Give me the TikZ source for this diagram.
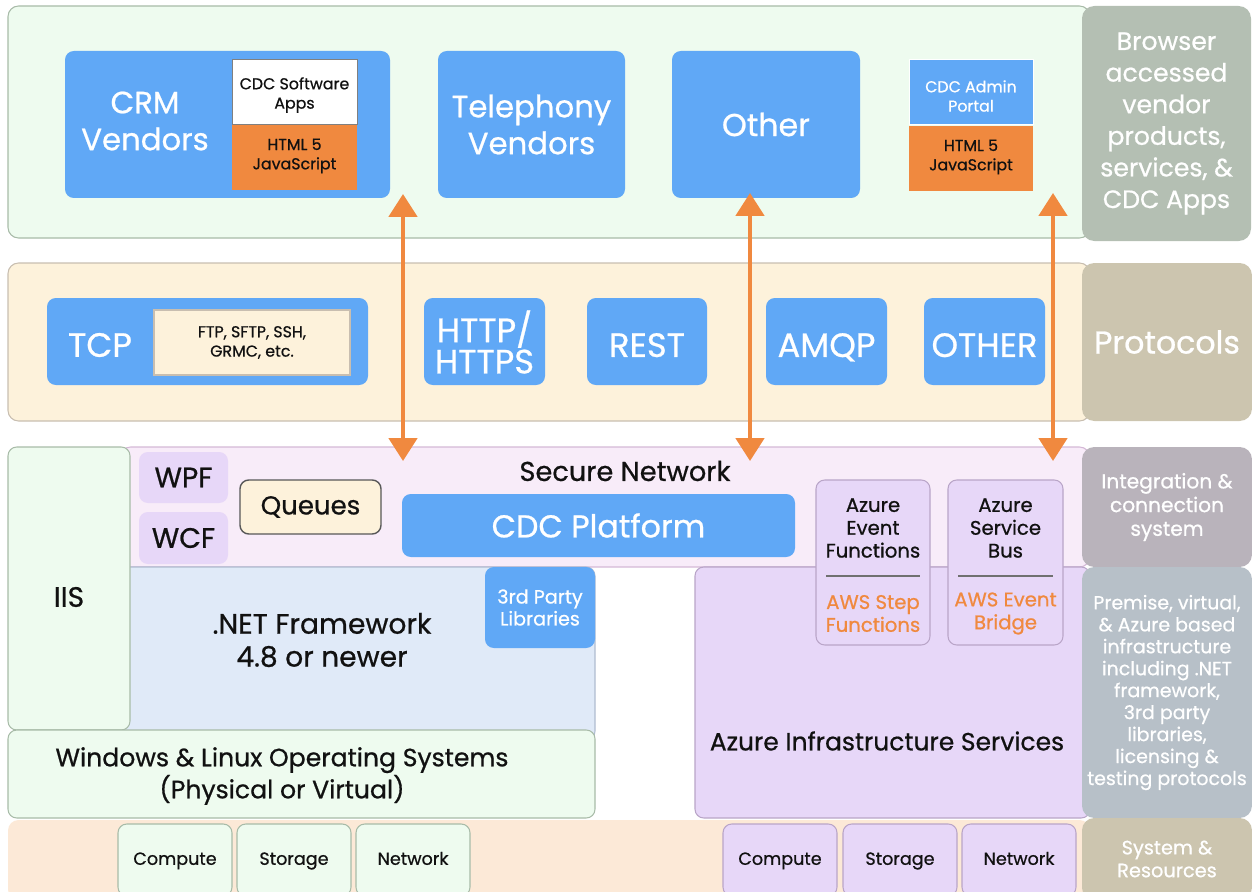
\documentclass[tikz,border=0pt]{standalone}
\usepackage{fontspec}
\setmainfont{Poppins}
\newfontfamily\pmed{Poppins}[FakeBold=0.7]
\usetikzlibrary{arrows.meta}

\definecolor{txt}{HTML}{111111}
\definecolor{cdcblue}{HTML}{60A8F6}
\definecolor{cdcorange}{HTML}{F0893F}
\definecolor{bandgreen}{HTML}{EEFBEF}
\definecolor{linegreen}{HTML}{A8BBA8}
\definecolor{bandcream}{HTML}{FDF2DB}
\definecolor{linecream}{HTML}{C8BEB0}
\definecolor{bandpink}{HTML}{F8ECF9}
\definecolor{linepink}{HTML}{D4B8D6}
\definecolor{lav}{HTML}{E7D7F8}
\definecolor{linelav}{HTML}{B9A5C8}
\definecolor{netblue}{HTML}{E0EAF8}
\definecolor{linenet}{HTML}{B0BCD0}
\definecolor{bandpeach}{HTML}{FCE9D7}
\definecolor{sidebrowser}{HTML}{B4BFB3}
\definecolor{sideproto}{HTML}{CCC5AF}
\definecolor{sideint}{HTML}{B9B3BB}
\definecolor{sideprem}{HTML}{B7C0C8}

\newcommand\fbig{\pmed\fontsize{17.5}{21}\selectfont}
\newcommand\fproto{\pmed\fontsize{19.2}{17.8}\selectfont}
\newcommand\fmid{\pmed\fontsize{15}{17}\selectfont}
\newcommand\fsmall{\pmed\fontsize{10}{13}\selectfont}
\newcommand\fevent{\pmed\fontsize{11.2}{13}\selectfont}
\newcommand\ftiny{\pmed\fontsize{9}{11}\selectfont}

\begin{document}
\begin{tikzpicture}[x=0.02cm,y=-0.02cm,
  sz/.style 2 args={minimum width=#1*0.02cm,minimum height=#2*0.02cm},
  box/.style={rounded corners=5pt,inner sep=0pt,outer sep=0pt,align=center,text=txt},
  band/.style={box,rounded corners=6pt,line width=0.6pt},
  bluebox/.style={box,fill=cdcblue,text=white,font=\fbig},
  protobox/.style={bluebox,font=\fproto},
  oneline/.style={text height=21.6pt,text depth=4pt},
  orangebox/.style={box,rounded corners=0pt,fill=cdcorange,font=\ftiny},
  sidelabel/.style={box,rounded corners=7pt,text=white},
  lavbox/.style={box,fill=lav,draw=linelav,line width=0.6pt},
  greenbox/.style={box,fill=bandgreen,draw=linegreen,line width=0.6pt},
  resbox/.style={font=\fsmall,text height=7.5pt,text depth=2pt},
  label/.style={inner sep=0pt,align=center,text=txt},
  link/.style={draw=cdcorange,line width=2.3pt,
    {Triangle[width=16pt,length=13pt]}-{Triangle[width=16pt,length=13pt]}}]

  \clip (0,0) rectangle (1252,892);

  % browser layer
  \node[band,sz={1082}{232},fill=bandgreen,draw=linegreen] (top) at (549,122) {};
  \node[sidelabel,sz={169}{235},fill=sidebrowser,font=\pmed\fontsize{14.3}{18}\selectfont] (browser) at (1166.5,123.5)
    {Browser\\accessed\\vendor\\products,\\services, \&\\CDC Apps};
  \node[bluebox,sz={325}{147}] (crm) at (227.5,124.5) {};
  \node[label,text=white,font=\fbig] (crmtxt) at (145,121) {CRM\\Vendors};
  \node[box,rounded corners=0pt,sz={125}{65},fill=white,draw=gray] (apps) at (294.5,91.5) {};
  \node[label,font=\ftiny] (appstxt) at (294.5,95) {CDC Software\\Apps};
  \node[orangebox,sz={125}{65}] (html1) at (294.5,157.5) {};
  \node[label,font=\ftiny] (html1txt) at (294.5,156) {HTML 5\\JavaScript};
  \node[bluebox,sz={187}{147}] (tel) at (531.5,124.5) {Telephony\\Vendors};
  \node[bluebox,font=\pmed\fontsize{18}{21}\selectfont,sz={188}{147}] (oth) at (766,124.5) {Other};
  \node[box,rounded corners=0pt,sz={124}{65},fill=cdcblue,draw=white] (admin) at (971,91.5) {};
  \node[label,text=white,font=\ftiny] (admintxt) at (971,96) {CDC Admin\\Portal};
  \node[orangebox,sz={124}{65}] (html2) at (971,158.5) {};
  \node[label,font=\ftiny] (html2txt) at (971,157) {HTML 5\\JavaScript};

  % protocols
  \node[band,sz={1082}{158},fill=bandcream,draw=linecream] (proto) at (549,342) {};
  \node[sidelabel,sz={170}{158},fill=sideproto,font=\pmed\fontsize{18}{21}\selectfont] (protolbl) at (1167,342) {Protocols};
  \node[protobox,sz={321}{87}] (tcp) at (207.5,341.5) {};
  \node[label,text=white,font=\fproto] (tcptxt) at (100,345) {TCP};
  \node[box,rounded corners=0pt,sz={196}{65},fill=bandcream,draw=linecream,line width=1pt,font=\ftiny] (ftp) at (252,342.5) {FTP, SFTP, SSH,\\GRMC, etc.};
  \node[protobox,sz={121}{87}] (http) at (484.5,341.5) {};
  \node[label,text=white,font=\fproto] (httptxt) at (484.5,342) {HTTP/\\HTTPS};
  \node[protobox,oneline,sz={120}{87}] (rest) at (647,341.5) {REST};
  \node[protobox,oneline,sz={121}{87}] (amqp) at (826.5,341.5) {AMQP};
  \node[protobox,oneline,sz={121}{87}] (other) at (984.5,341.5) {OTHER};

  % integration
  \node[band,sz={970}{120},fill=bandpink,draw=linepink] (secure) at (605,507) {};
  \node[sidelabel,sz={170}{120},fill=sideint,font=\pmed\fontsize{11.5}{13.5}\selectfont] (intlbl) at (1167,507) {Integration \&\\connection\\system};
  \node[lavbox,sz={395}{251}] (azure) at (892.5,692.5) {};
  \node[label,font=\pmed\fontsize{14.2}{17}\selectfont] (azuretxt) at (887,741) {Azure Infrastructure Services};
  \node[box,sz={475}{173},fill=netblue,draw=linenet,line width=0.6pt] (net) at (357.5,653.5) {};
  \node[label,font=\pmed\fontsize{16}{18.7}\selectfont] (nettxt) at (322,640) {.NET Framework\\4.8 or newer};
  \node[bluebox,sz={110}{81},font=\pmed\fontsize{10.9}{12.5}\selectfont] (libs) at (540,607.5) {3rd Party\\Libraries};
  \node[greenbox,sz={122}{283}] (iis) at (69,588.5) {};
  \node[label,font=\pmed\fontsize{16}{18}\selectfont] (iistxt) at (69,597) {IIS};
  \node[box,sz={89}{51},fill=lav,font=\pmed\fontsize{16}{18}\selectfont] (wpf) at (183.5,477.5) {WPF};
  \node[box,sz={89}{52},fill=lav,font=\pmed\fontsize{16}{18}\selectfont] (wcf) at (183.5,538) {WCF};
  \node[box,sz={141}{54},fill=bandcream,draw=txt!70,line width=0.8pt,font=\pmed\fontsize{14.8}{17}\selectfont] (queues) at (310.5,507) {Queues};
  \node[label,font=\pmed\fontsize{15.5}{18}\selectfont] (securetxt) at (625,471) {Secure Network};
  \node[bluebox,sz={393}{63},font=\pmed\fontsize{18}{21}\selectfont] (platform) at (598.5,525.5) {CDC Platform};
  \node[lavbox,sz={114}{165}] (events) at (873,562.5) {};
  \node[lavbox,sz={115}{165}] (bus) at (1005.5,562.5) {};
  \node[label,font=\fevent] (eventstxt) at (873,528) {Azure\\Event\\Functions};
  \node[label,font=\fevent,text=cdcorange] (steptxt) at (873,613.5) {AWS Step\\Functions};
  \node[label,font=\fevent] (bustxt) at (1005.5,528) {Azure\\Service\\Bus};
  \node[label,font=\fevent,text=cdcorange] (bridgetxt) at (1005.5,613.5) {AWS Event\\Bridge};
  \draw[line width=1pt,txt!60] (826,576) -- (920,576);
  \draw[line width=1pt,txt!60] (958,576) -- (1053,576);
  \node[sidelabel,sz={170}{251},fill=sideprem,font=\pmed\fontsize{10.8}{12.5}\selectfont] (premlbl) at (1167,692.5)
    {Premise, virtual,\\\& Azure based\\infrastructure\\including .NET\\framework,\\3rd party\\libraries,\\licensing \&\\testing protocols};
  \node[greenbox,sz={587}{88}] (os) at (301.5,774) {};
  \node[label,font=\pmed\fontsize{14.3}{17}\selectfont] (ostxt) at (282,776) {Windows \& Linux Operating Systems\\(Physical or Virtual)};

  % system and resources
  \node[band,sz={1082}{80},fill=bandpeach] (sys) at (549,860) {};
  \node[sidelabel,sz={170}{82},fill=sideproto,font=\pmed\fontsize{11}{13}\selectfont] (syslbl) at (1167,859) {System \&\\Resources};
  \node[greenbox,resbox,sz={114}{72}] (comp1) at (175,860) {Compute};
  \node[greenbox,resbox,sz={114}{72}] (stor1) at (294,860) {Storage};
  \node[greenbox,resbox,sz={114}{72}] (netw1) at (413,860) {Network};
  \node[lavbox,resbox,sz={114}{72}] (comp2) at (780,860) {Compute};
  \node[lavbox,resbox,sz={114}{72}] (stor2) at (900,860) {Storage};
  \node[lavbox,resbox,sz={114}{72}] (netw2) at (1019,860) {Network};

  % links
  \coordinate (l1a) at (403,194);
  \coordinate (l1b) at (403,461);
  \coordinate (l2a) at (750,193);
  \coordinate (l2b) at (750,461);
  \coordinate (l3a) at (1053,193);
  \coordinate (l3b) at (1053,461);
  \draw[link] (l1a) -- (l1b);
  \draw[link] (l2a) -- (l2b);
  \draw[link] (l3a) -- (l3b);
\end{tikzpicture}
\end{document}
